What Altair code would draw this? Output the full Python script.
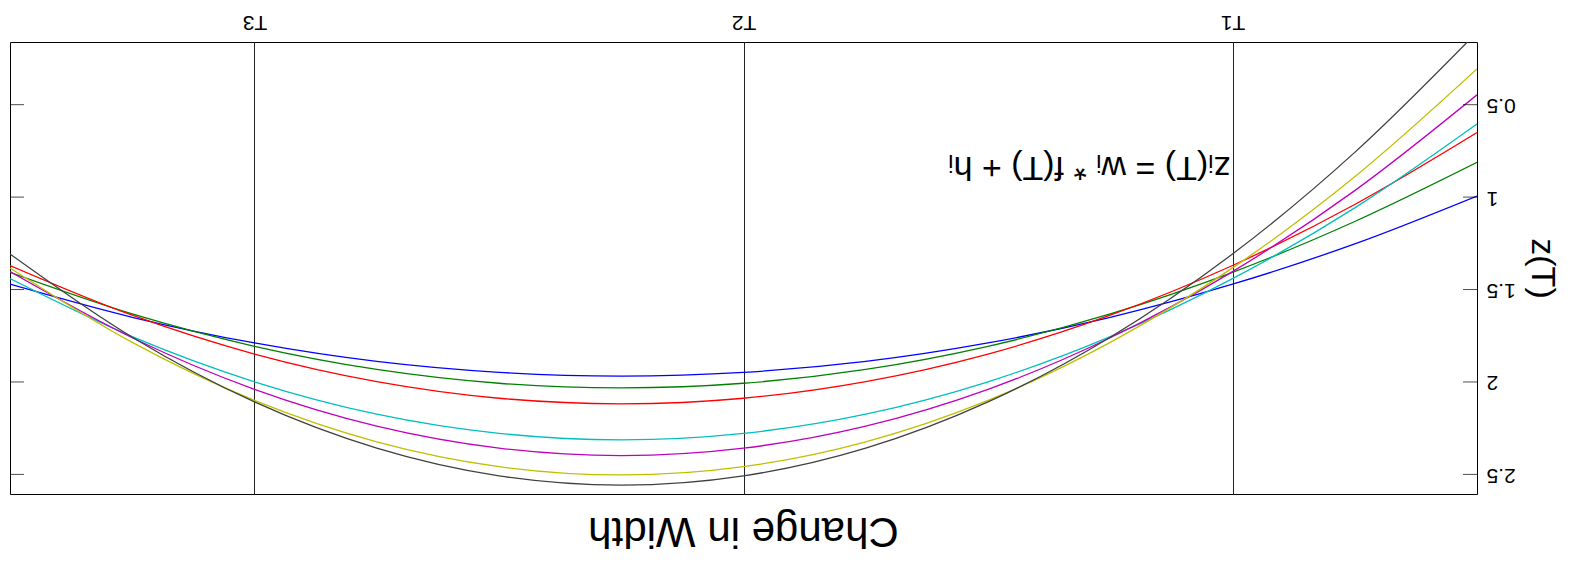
import altair as alt
import pandas as pd

# Sample positions along T (T1 = 1, T2 = 2, T3 = 3)
x_values = [0.5, 0.75, 1.0, 1.25, 1.5, 1.75, 2.0, 2.25, 2.5, 2.75, 3.0, 3.25, 3.5]

series_names = ["blue", "green", "red", "cyan", "magenta", "yellow", "black"]
series_colors = ["#0000ff", "#008000", "#ff0000", "#00bfbf", "#bf00bf", "#bfbf00", "#404040"]

blue = [0.994, 1.253, 1.471, 1.650, 1.789, 1.889, 1.948, 1.968, 1.948, 1.889, 1.789, 1.650, 1.471]
green = [0.812, 1.132, 1.407, 1.632, 1.807, 1.932, 2.007, 2.032, 2.007, 1.932, 1.807, 1.632, 1.407]
red = [0.651, 1.040, 1.370, 1.639, 1.849, 1.998, 2.088, 2.118, 2.088, 1.998, 1.849, 1.639, 1.370]
cyan = [0.604, 1.058, 1.441, 1.755, 1.999, 2.174, 2.278, 2.313, 2.278, 2.174, 1.999, 1.755, 1.441]
magenta = [0.447, 0.965, 1.403, 1.761, 2.040, 2.239, 2.358, 2.398, 2.358, 2.239, 2.040, 1.761, 1.403]
yellow = [0.307, 0.890, 1.383, 1.786, 2.100, 2.324, 2.458, 2.503, 2.458, 2.324, 2.100, 1.786, 1.383]
black = [0.108, 0.758, 1.308, 1.758, 2.108, 2.358, 2.508, 2.558, 2.508, 2.358, 2.108, 1.758, 1.308]

x_tick_values = [1, 2, 3]
x_tick_labels = ["T1", "T2", "T3"]
y_tick_values = [0.5, 1, 1.5, 2, 2.5]
x_domain = [0.5, 3.5]
y_domain = [0.161, 2.606]

chart_title = "Change in Width"
y_title = "z(T)"
formula_text = "zᵢ(T) = wᵢ * f(T) + hᵢ"
formula_pos = [1.004, 0.785]

FONT = "Liberation Sans"

rows = []
for name, vals in zip(series_names, [blue, green, red, cyan, magenta, yellow, black]):
    for i, (x, v) in enumerate(zip(x_values, vals)):
        rows.append({"T": x, "z": v, "series": name, "order": i})
df = pd.DataFrame(rows)

tick_rows = []
for edge in x_domain:
    for v in y_tick_values:
        tick_rows.append({"T": edge, "z": v})
tick_df = pd.DataFrame(tick_rows)

text_df = pd.DataFrame([{"T": formula_pos[0], "z": formula_pos[1], "label": formula_text}])

label_expr = "".join(f"datum.value == {v} ? '{l}' : " for v, l in zip(x_tick_values, x_tick_labels)) + "''"

x_enc = alt.X(
    "T:Q",
    scale=alt.Scale(domain=x_domain, reverse=True, nice=False, zero=False),
    axis=alt.Axis(
        orient="top", values=x_tick_values, labelExpr=label_expr,
        labelAngle=180, labelAlign="center", labelBaseline="top", labelPadding=10,
        ticks=False, tickSize=0, domain=False,
        grid=True, gridColor="#222222", gridOpacity=1, gridWidth=1,
        title=None, labelFont=FONT, labelFontSize=21, labelColor="black",
    ),
)
y_enc = alt.Y(
    "z:Q",
    scale=alt.Scale(domain=y_domain, reverse=True, nice=False, zero=False),
    axis=alt.Axis(
        orient="right", values=y_tick_values, format="~g",
        labelAngle=180, labelAlign="right", labelBaseline="middle", labelPadding=9,
        ticks=False, tickSize=0, domain=False, grid=False,
        labelFont=FONT, labelFontSize=21, labelColor="black",
        title=y_title, titleAngle=90, titleBaseline="bottom", titlePadding=9,
        titleFont=FONT, titleFontSize=34, titleFontWeight="normal", titleColor="black",
    ),
)

lines = alt.Chart(df).mark_line(clip=True, strokeWidth=1.3, interpolate="monotone").encode(
    x=x_enc,
    y=y_enc,
    color=alt.Color("series:N", scale=alt.Scale(domain=series_names, range=series_colors), legend=None),
    order="order:Q",
)

ticks = alt.Chart(tick_df).mark_tick(
    orient="horizontal", size=28, thickness=1, color="black", clip=True
).encode(x=x_enc, y=y_enc)

formula = alt.Chart(text_df).mark_text(
    angle=180, align="left", baseline="alphabetic", fontSize=34, font=FONT, color="black"
).encode(x=x_enc, y=y_enc, text="label:N")

chart = (
    alt.layer(lines, ticks, formula)
    .properties(
        width=1467,
        height=452,
        background="white",
        autosize=alt.AutoSizeParams(type="none"),
        padding={"left": 2, "top": 34, "right": 88, "bottom": 62},
        title=alt.TitleParams(
            chart_title, orient="bottom", angle=180, baseline="alphabetic",
            offset=24, fontSize=42, font=FONT, fontWeight="normal", color="black",
            anchor="middle", frame="group",
        ),
    )
    .configure_view(stroke="black", strokeWidth=1)
)

chart.save("out.html", embed_options={"renderer": "svg", "actions": False})
